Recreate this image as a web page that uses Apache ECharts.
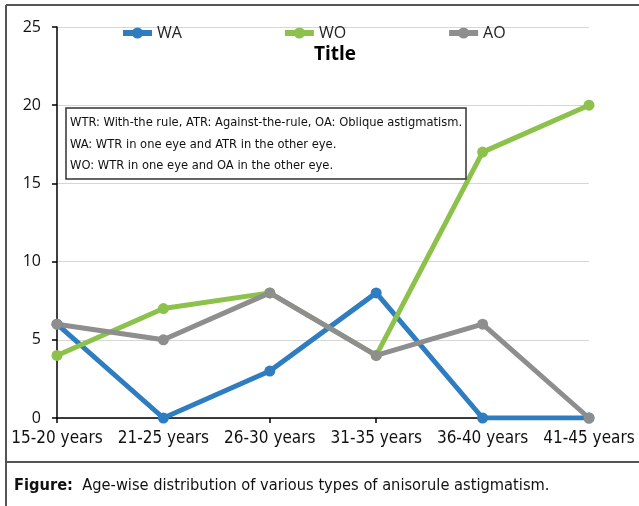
<!DOCTYPE html>
<html>
<head>
<meta charset="utf-8">
<script src="https://cdn.jsdelivr.net/npm/echarts@6/dist/echarts.min.js"></script>
<style>
  html, body { margin: 0; padding: 0; background: #fff; }
  #chart { width: 639px; height: 506px; }
</style>
</head>
<body>
<div id="chart"></div>
<script>
var ageGroups = ["15-20 years", "21-25 years", "26-30 years", "31-35 years", "36-40 years", "41-45 years"];
var waValues = [6, 0, 3, 8, 0, 0];
var woValues = [4, 7, 8, 4, 17, 20];
var aoValues = [6, 5, 8, 4, 6, 0];
var noteLines = [
  "WTR: With-the rule, ATR: Against-the-rule, OA: Oblique astigmatism.",
  "WA: WTR in one eye and ATR in the other eye.",
  "WO: WTR in one eye and OA in the other eye."
];
var captionBold = "Figure:";
var captionText = "Age-wise distribution of various types of anisorule astigmatism.";

var narrow = '"Liberation Sans Narrow", "DejaVu Sans Condensed", sans-serif';

function lineSeries(name, data, color) {
  return {
    name: name,
    type: "line",
    data: data,
    symbol: "circle",
    symbolSize: 11,
    color: color,
    lineStyle: { width: 5, color: color },
    itemStyle: { color: color }
  };
}

var myChart = echarts.init(document.getElementById("chart"));
myChart.setOption({
  animation: false,
  title: {
    text: "Title",
    left: 309,
    top: 40,
    textStyle: { fontFamily: "Open Sans", fontWeight: "bold", fontSize: 19, color: "#000" }
  },
  legend: {
    left: 120,
    top: 25,
    padding: 0,
    itemWidth: 29,
    itemHeight: 14,
    itemGap: 100,
    lineStyle: { width: 6 },
    textStyle: { fontFamily: "Open Sans", fontSize: 16, color: "#222" },
    data: ["WA", "WO", "AO"]
  },
  grid: { left: 57, right: 50, top: 27, bottom: 88 },
  xAxis: {
    type: "category",
    boundaryGap: false,
    data: ageGroups,
    axisLine: { lineStyle: { color: "#000", width: 1.5 } },
    axisTick: { show: true, length: 5, lineStyle: { color: "#000", width: 1.5 } },
    axisLabel: { fontFamily: narrow, fontSize: 17, color: "#111", margin: 12, interval: 0 }
  },
  yAxis: {
    type: "value",
    min: 0,
    max: 25,
    interval: 5,
    axisLine: { show: true, lineStyle: { color: "#000", width: 1.5 } },
    axisTick: { show: true, length: 5, lineStyle: { color: "#000", width: 1.5 } },
    axisLabel: { fontFamily: "Open Sans", fontSize: 16, color: "#111", margin: 16 },
    splitLine: { lineStyle: { color: "#d6d6d6", width: 1 } }
  },
  series: [
    lineSeries("WA", waValues, "#2e7dc1"),
    lineSeries("WO", woValues, "#8cc14b"),
    lineSeries("AO", aoValues, "#8e8e8e")
  ],
  graphic: [
    { type: "line", shape: { x1: 6, y1: 5, x2: 639, y2: 5 }, style: { stroke: "#555", lineWidth: 2 } },
    { type: "line", shape: { x1: 6, y1: 5, x2: 6, y2: 506 }, style: { stroke: "#555", lineWidth: 2 } },
    { type: "line", shape: { x1: 6, y1: 462, x2: 639, y2: 462 }, style: { stroke: "#555", lineWidth: 2 } },
    {
      type: "rect",
      shape: { x: 66, y: 108, width: 400, height: 71 },
      style: { fill: "#fff", stroke: "#333", lineWidth: 1.5 },
      z: 10
    },
    {
      type: "text",
      left: 70,
      top: 112,
      z: 11,
      style: {
        text: noteLines.join("\n"),
        font: "12.8px " + narrow,
        lineHeight: 21.5,
        fill: "#111"
      }
    },
    {
      type: "text",
      left: 14,
      top: 478,
      style: {
        text: "{b|" + captionBold + "}  " + captionText,
        font: "16.3px " + narrow,
        fill: "#111",
        rich: {
          b: { fontFamily: narrow, fontSize: 16.3, fontWeight: "bold", fill: "#111" }
        }
      }
    }
  ]
});
</script>
</body>
</html>
